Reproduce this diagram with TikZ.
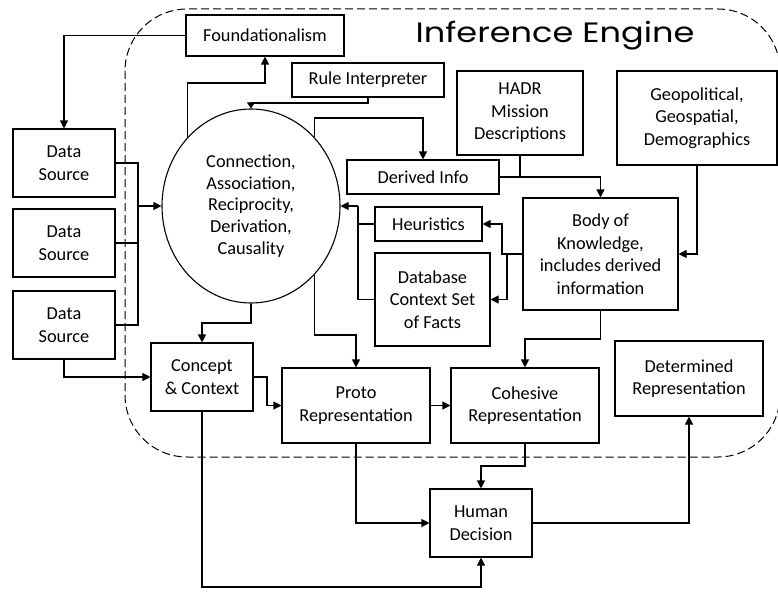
\documentclass[tikz,border=0pt]{standalone}
\usepackage{fontspec}
\setmainfont{Carlito}
\newfontfamily\ietitlefont[FakeStretch=1.2]{Poppins}
\usetikzlibrary{arrows.meta,shapes.geometric}
\tikzset{
  ie chart/.style={
    x=1pt,
    y=-1pt,
    line width=1.1pt,
    line join=miter
  },
  ie size/.style 2 args={
    minimum width=#1pt,
    minimum height=#2pt
  },
  ie box/.style={
    draw,
    align=center,
    inner sep=0pt,
    font=\fontsize{18.3}{22.5}\selectfont
  },
  ie hub/.style={
    draw,
    ellipse,
    align=center,
    inner sep=0pt,
    minimum width=178pt,
    minimum height=194pt,
    font=\fontsize{18.3}{21.8}\selectfont
  },
  ie link/.style={
    -{Triangle[length=8pt,width=8pt]}
  },
  ie engine/.style={
    line width=1pt,
    dash pattern=on 8pt off 4pt,
    rounded corners=62pt
  },
  ie title/.style={
    font=\ietitlefont\fontsize{28}{30}\selectfont,
    inner sep=0pt
  }
}

\begin{document}
\begin{tikzpicture}[ie chart]
  \useasboundingbox (0,0) rectangle (778,591);
  \draw[ie engine] (125,9) rectangle (780,457);
  \node[ie title] (title) at (555,36) {Inference Engine};

  \node[ie box, ie size={158}{41}] (found) at (265,35.5) {Foundationalism};
  \node[ie box, ie size={152}{34}] (rule) at (368,80) {Rule Interpreter};
  \node[ie box, ie size={126}{84}] (hadr) at (520,113) {HADR\\Mission\\Descriptions};
  \node[ie box, ie size={160}{94}] (geo) at (697,118) {Geopolitical,\\Geospatial,\\Demographics};
  \node[ie box, ie size={152}{34}] (derived) at (423,177) {Derived Info};
  \node[ie box, ie size={107}{34}] (heur) at (428.5,224) {Heuristics};
  \node[ie box, ie size={115}{93}] (facts) at (432.5,299.5) {Database\\Context Set\\of Facts};
  \node[ie box, ie size={155}{112}] (body) at (600.5,254) {Body of\\Knowledge,\\includes derived\\information};
  \node[ie hub] (hub) at (251,206) {Connection,\\Association,\\Reciprocity,\\Derivation,\\Causality};
  \node[ie box, ie size={102}{68}] (src1) at (64,163) {Data\\Source};
  \node[ie box, ie size={102}{68}] (src2) at (64,243) {Data\\Source};
  \node[ie box, ie size={102}{68}] (src3) at (64,325) {Data\\Source};
  \node[ie box, ie size={102}{68}] (concept) at (202,377) {Concept\\\& Context};
  \node[ie box, ie size={148}{75}] (proto) at (356,405.5) {Proto\\Representation};
  \node[ie box, ie size={148}{75}] (cohesive) at (525,405.5) {Cohesive\\Representation};
  \node[ie box, ie size={148}{75}] (determined) at (689,378.5) {Determined\\Representation};
  \node[ie box, ie size={102}{68}] (human) at (481,523) {Human\\Decision};

  \coordinate (fd) at (265,83);
  \coordinate (rh) at (251,103);
  \coordinate (hd) at (423,118);
  \coordinate (cj) at (202,323);
  \coordinate (pj) at (356,335);
  \coordinate (bus) at (138,206);
  \coordinate (cp) at (267,377);
  \coordinate (bh) at (502,254);
  \coordinate (bd) at (507,254);
  \coordinate (fh) at (358,206);
  \coordinate (bc) at (525,339);
  \coordinate (ch) at (481,466);
  \coordinate (hb) at (202,587);

  \draw[ie link] (hub.north west) |- (fd) -- (found.south);
  \draw[ie link] (found.west) -| (src1.north);
  \draw[-{Triangle[length=6pt,width=8pt]}] (rule.south) |- (rh) -- (hub.north);
  \draw[ie link] (hub.north east) |- (hd) -- (derived.north);
  \draw[ie link] (hub.south) |- (cj) -- (concept.north);
  \draw[ie link] (hub.south east) |- (pj) -- (proto.north);
  \draw (src1.east) -| (bus) |- (src3.east);
  \draw (src2.east) -- (src2.east -| bus);
  \draw[ie link] (bus) -- (hub.west);
  \draw[ie link] (src3.south) |- (concept.west);
  \draw[ie link] (concept.east) -- (cp) |- (proto.west);
  \draw[ie link] (proto.east) -- (cohesive.west);
  \draw[ie link] (derived.east) -| (body.north);
  \draw (hadr.south) -- (hadr.south |- derived.east);
  \draw[ie link] (geo.south) |- (body.east);
  \draw[ie link] (body.west) -- (bh) |- (heur.east);
  \draw[ie link] (bd) |- (facts.east);
  \draw (heur.west) -| (fh);
  \draw (facts.west) -| (fh);
  \draw[ie link] (fh) -- (hub.east);
  \draw[ie link] (body.south) |- (bc) -- (cohesive.north);
  \draw[ie link] (cohesive.south) |- (ch) -- (human.north);
  \draw[ie link] (proto.south) |- (human.west);
  \draw[ie link] (concept.south) -- (hb) -| (human.south);
  \draw[ie link] (human.east) -| (determined.south);
\end{tikzpicture}
\end{document}
